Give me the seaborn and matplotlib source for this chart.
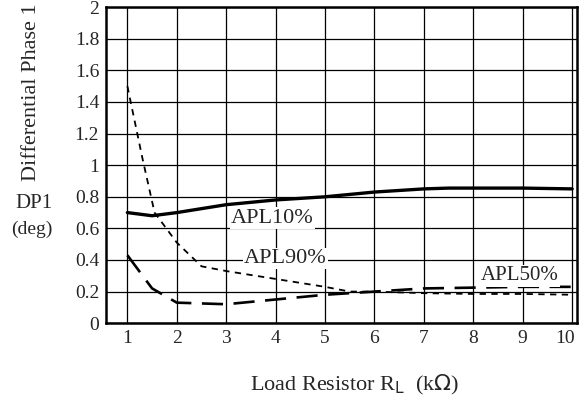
import matplotlib.pyplot as plt
import matplotlib.transforms as mtransforms
import seaborn as sns
import pandas as pd

plt.switch_backend('Agg')

# values
apl10_x = [1, 1.5, 2, 3, 4, 5, 6, 7, 7.5, 8, 9, 10]
apl10_y = [0.70, 0.68, 0.70, 0.75, 0.78, 0.80, 0.83, 0.85, 0.855, 0.855, 0.855, 0.85]

apl90_x = [1, 1.3, 1.55, 2, 2.5, 3, 4, 5, 5.5, 6, 7, 8, 9, 10]
apl90_y = [1.50, 1.05, 0.70, 0.51, 0.36, 0.33, 0.28, 0.23, 0.20, 0.20, 0.19, 0.185, 0.185, 0.18]

apl50_x = [1, 1.5, 2, 3, 4, 5, 6, 7, 8, 9, 10]
apl50_y = [0.43, 0.22, 0.13, 0.12, 0.15, 0.18, 0.20, 0.22, 0.225, 0.23, 0.23]

x_ticks = list(range(1, 11))
y_ticks = [0, 0.2, 0.4, 0.6, 0.8, 1, 1.2, 1.4, 1.6, 1.8, 2]
y_tick_labels = ["0", "0.2", "0.4", "0.6", "0.8", "1", "1.2", "1.4", "1.6", "1.8", "2"]

sns.set_style("white")
plt.rcParams['font.family'] = ['Liberation Serif', 'DejaVu Serif']

fig = plt.figure(figsize=(5.8, 3.99), dpi=100)
ax = fig.add_axes([0.183, 0.19, 0.812, 0.792])

df10 = pd.DataFrame({"RL": apl10_x, "DP1": apl10_y})
df90 = pd.DataFrame({"RL": apl90_x, "DP1": apl90_y})
df50 = pd.DataFrame({"RL": apl50_x, "DP1": apl50_y})

sns.lineplot(data=df10, x="RL", y="DP1", ax=ax, color="black", linewidth=2.4, zorder=3)
sns.lineplot(data=df90, x="RL", y="DP1", ax=ax, color="black", linewidth=1.3, zorder=3)
ax.lines[-1].set_dashes((3.5, 3))
sns.lineplot(data=df50, x="RL", y="DP1", ax=ax, color="black", linewidth=1.9, zorder=3)
ax.lines[-1].set_dashes((8, 4))

ax.set_xlim(0.57, 10.1)
ax.set_ylim(0, 2)
ax.set_xticks(x_ticks)
ax.set_xticklabels([str(t) for t in x_ticks])
ax.set_yticks(y_ticks)
ax.set_yticklabels(y_tick_labels)
ax.tick_params(length=0, labelsize=14, pad=5)
ax.grid(True, color="black", linewidth=0.9)
for s in ax.spines.values():
    s.set_color("black")
    s.set_linewidth(1.8)

# pull the "10" in a little so it stays inside the figure
last = ax.get_xticklabels()[-1]
last.set_transform(last.get_transform() +
                   mtransforms.ScaledTranslation(-5 / 72, 0, fig.dpi_scale_trans))

box = dict(facecolor="white", edgecolor="none", pad=1)
ax.text(3.1, 0.665, "APL10%", fontsize=16, va="center", ha="left", bbox=box, zorder=4)
ax.text(3.36, 0.41, "APL90%", fontsize=16, va="center", ha="left", bbox=box, zorder=4)
ax.text(8.15, 0.30, "APL50%", fontsize=15, va="center", ha="left", bbox=box, zorder=4)

ax.set_xlabel("")
ax.set_ylabel("")
fig.text(0.612, 0.035, r"Load Resistor R$_{\mathsf{L}}$  (k$\Omega$)", fontsize=16,
         ha="center", va="center")
fig.text(0.055, 0.77, "Differential Phase 1", fontsize=16, rotation=90,
         ha="center", va="center")
fig.text(0.058, 0.49, "DP1", fontsize=15, ha="center", va="center")
fig.text(0.054, 0.424, "(deg)", fontsize=14, ha="center", va="center")

fig.savefig("out.png", dpi=100)
